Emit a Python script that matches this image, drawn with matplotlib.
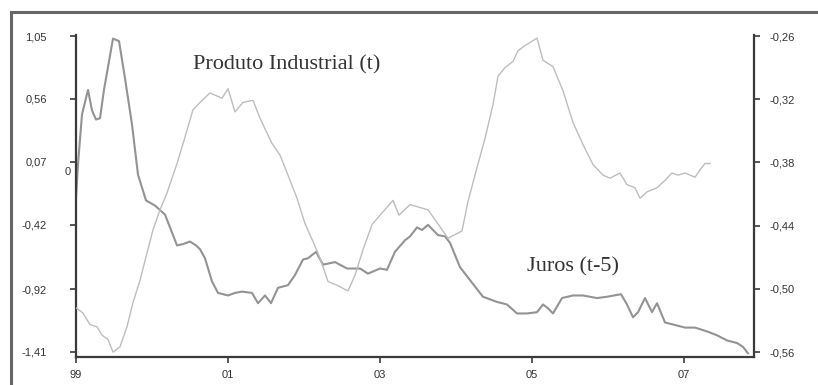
import numpy as np
import matplotlib
matplotlib.use("Agg")
from matplotlib import pyplot as plt
import matplotlib.patches as patches

# Juros (t-5), eixo esquerdo
juros_t = [1999.000, 1999.026, 1999.079, 1999.158, 1999.211, 1999.263, 1999.316, 1999.368,
           1999.487, 1999.566, 1999.645, 1999.737, 1999.816, 1999.921, 2000.039, 2000.171,
           2000.237, 2000.329, 2000.408, 2000.500, 2000.579, 2000.632, 2000.697, 2000.789,
           2000.868, 2001.000, 2001.092, 2001.184, 2001.316, 2001.395, 2001.487, 2001.566,
           2001.658, 2001.789, 2001.882, 2001.987, 2002.053, 2002.158, 2002.250, 2002.408,
           2002.566, 2002.737, 2002.842, 2003.000, 2003.092, 2003.197, 2003.329, 2003.395,
           2003.487, 2003.553, 2003.632, 2003.697, 2003.763, 2003.855, 2003.921, 2004.053,
           2004.184, 2004.355, 2004.539, 2004.671, 2004.803, 2004.934, 2005.066, 2005.145,
           2005.211, 2005.276, 2005.395, 2005.539, 2005.671, 2005.855, 2005.987, 2006.171,
           2006.250, 2006.329, 2006.395, 2006.487, 2006.579, 2006.645, 2006.750, 2006.882,
           2007.013, 2007.145, 2007.303, 2007.434, 2007.566, 2007.697, 2007.776, 2007.842]
juros_v = [-0.21, 0.05, 0.44, 0.63, 0.47, 0.40, 0.41, 0.63,
           1.03, 1.01, 0.72, 0.36, -0.03, -0.23, -0.27, -0.34,
           -0.44, -0.58, -0.57, -0.55, -0.58, -0.61, -0.68, -0.86,
           -0.95, -0.97, -0.95, -0.94, -0.95, -1.03, -0.97, -1.03,
           -0.91, -0.89, -0.81, -0.69, -0.68, -0.63, -0.73, -0.71,
           -0.76, -0.76, -0.80, -0.76, -0.77, -0.63, -0.54, -0.51,
           -0.44, -0.46, -0.42, -0.46, -0.50, -0.51, -0.56, -0.75,
           -0.85, -0.98, -1.02, -1.04, -1.11, -1.11, -1.10, -1.04,
           -1.07, -1.11, -0.99, -0.97, -0.97, -0.99, -0.98, -0.96,
           -1.04, -1.14, -1.10, -0.99, -1.10, -1.03, -1.18, -1.20,
           -1.22, -1.22, -1.25, -1.28, -1.32, -1.34, -1.37, -1.42]

# Produto Industrial (t), eixo direito
prod_t = [1999.000, 1999.092, 1999.184, 1999.276, 1999.342, 1999.421, 1999.487, 1999.579,
          1999.671, 1999.750, 1999.842, 1999.934, 2000.013, 2000.105, 2000.197, 2000.329,
          2000.434, 2000.539, 2000.632, 2000.763, 2000.921, 2001.000, 2001.092, 2001.197,
          2001.329, 2001.421, 2001.579, 2001.684, 2001.789, 2001.908, 2002.013, 2002.118,
          2002.211, 2002.316, 2002.447, 2002.579, 2002.671, 2002.776, 2002.895, 2003.026,
          2003.171, 2003.250, 2003.395, 2003.632, 2003.750, 2003.895, 2004.079, 2004.158,
          2004.276, 2004.382, 2004.487, 2004.553, 2004.645, 2004.750, 2004.816, 2004.908,
          2005.066, 2005.145, 2005.276, 2005.408, 2005.539, 2005.671, 2005.803, 2005.934,
          2006.026, 2006.158, 2006.250, 2006.355, 2006.421, 2006.513, 2006.645, 2006.750,
          2006.842, 2006.921, 2007.013, 2007.145, 2007.211, 2007.276, 2007.342]
prod_v = [-0.518, -0.523, -0.534, -0.536, -0.544, -0.548, -0.560, -0.555,
          -0.536, -0.513, -0.492, -0.466, -0.444, -0.425, -0.409, -0.381,
          -0.356, -0.330, -0.323, -0.314, -0.319, -0.310, -0.332, -0.323,
          -0.321, -0.338, -0.362, -0.373, -0.392, -0.414, -0.438, -0.455,
          -0.471, -0.493, -0.497, -0.502, -0.487, -0.463, -0.439, -0.428,
          -0.416, -0.430, -0.420, -0.425, -0.437, -0.452, -0.445, -0.417,
          -0.385, -0.357, -0.325, -0.298, -0.290, -0.284, -0.274, -0.269,
          -0.262, -0.283, -0.289, -0.312, -0.342, -0.363, -0.382, -0.392,
          -0.395, -0.390, -0.401, -0.404, -0.414, -0.408, -0.404, -0.397,
          -0.390, -0.392, -0.390, -0.394, -0.387, -0.381, -0.381]

left_ticks = [1.05, 0.56, 0.07, -0.42, -0.92, -1.41]
left_labels = ['1,05', '0,56', '0,07', '-0,42', '-0,92', '-1,41']
right_ticks = [-0.26, -0.32, -0.38, -0.44, -0.50, -0.56]
right_labels = ['-0,26', '-0,32', '-0,38', '-0,44', '-0,50', '-0,56']
x_ticks = [1999, 2001, 2003, 2005, 2007]
x_labels = ['99', '01', '03', '05', '07']

W, H = 818, 385
fig = plt.figure(figsize=(W / 100, H / 100), dpi=100)
ax = fig.add_axes([76 / W, (H - 357) / H, (754 - 76) / W, (357 - 35) / H])
ax2 = ax.twinx()

ax.plot(juros_t, juros_v, color='#939393', lw=1.5)
ax2.plot(prod_t, prod_v, color='#bdbdbd', lw=1.0)

ax.set_xlim(1999, 1999 + 678 / 76)
ax.set_ylim(-1.449, 1.058)
ax2.set_ylim(-0.5647, -0.259)

spine_c = '#3a3a3a'
for a in (ax, ax2):
    a.spines['top'].set_visible(False)
    for s in ('left', 'right', 'bottom'):
        a.spines[s].set_color(spine_c)
        a.spines[s].set_linewidth(1.6)
ax.spines['right'].set_visible(False)
ax2.spines['left'].set_visible(False)
ax2.spines['bottom'].set_visible(False)

ax.set_yticks(left_ticks)
ax.set_yticklabels(left_labels)
ax2.set_yticks(right_ticks)
ax2.set_yticklabels(right_labels)
ax.set_xticks(x_ticks)
ax.set_xticklabels(x_labels)

tick_font = dict(labelsize=8, labelcolor='#333333', color=spine_c, width=1.2, length=4)
ax.tick_params(axis='y', pad=17, **tick_font)
ax2.tick_params(axis='y', pad=7, **tick_font)
ax.tick_params(axis='x', pad=5, **tick_font)
for lbl in ax.get_yticklabels() + ax.get_xticklabels() + ax2.get_yticklabels():
    lbl.set_family('Liberation Sans')

fig.text(193 / W, 1 - 65 / H, 'Produto Industrial (t)', family='Liberation Serif',
         fontsize=16, color='#333333', va='center', ha='left')
fig.text(527 / W, 1 - 267 / H, 'Juros (t-5)', family='Liberation Serif',
         fontsize=16, color='#333333', va='center', ha='left')
fig.text(68 / W, 1 - 172 / H, '0', family='Liberation Sans',
         fontsize=8, color='#333333', va='center', ha='center')

# moldura do scan
border = patches.Rectangle((11 / W, -0.05), 1.0, 1 - 12 / H + 0.05, transform=fig.transFigure,
                           fill=False, lw=2.2, ec='#666666')
fig.add_artist(border)

fig.savefig('out.png', dpi=100)
